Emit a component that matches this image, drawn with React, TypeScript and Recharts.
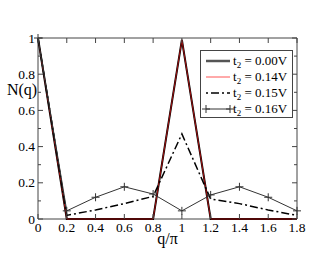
import React from "react";
import { LineChart, Line, XAxis, YAxis, ReferenceArea } from "recharts";

const qValues = [0, 0.2, 0.4, 0.6, 0.8, 1, 1.2, 1.4, 1.6, 1.8];
const n000 = [1, 0, 0, 0, 0, 0.99, 0, 0, 0, 0];
const n014 = [1, 0, 0, 0, 0, 0.99, 0, 0, 0, 0];
const n015 = [1, 0.02, 0.05, 0.085, 0.125, 0.47, 0.11, 0.085, 0.05, 0.02];
const n016 = [1, 0.045, 0.12, 0.178, 0.138, 0.045, 0.133, 0.178, 0.12, 0.045];

const xTicks = [0, 0.2, 0.4, 0.6, 0.8, 1, 1.2, 1.4, 1.6, 1.8];
const yTicks = [0, 0.1, 0.2, 0.3, 0.4, 0.5, 0.6, 0.7, 0.8, 0.9, 1];
const yLabelled = [0, 0.2, 0.4, 0.6, 0.8, 1];
const seriesNames = ["0.00V", "0.14V", "0.15V", "0.16V"];

const data = qValues.map((q, i) => ({
  q,
  a: n000[i],
  b: n014[i],
  c: n015[i],
  d: n016[i],
}));

const W = 334;
const H = 258;
const M = { top: 38, right: 37, bottom: 0, left: 0 };
const YW = 38;
const XH = 39;
const plotLeft = M.left + YW;
const plotRight = W - M.right;
const plotTop = M.top;
const plotBottom = H - M.bottom - XH;
const FONT = "'Liberation Serif', 'Times New Roman', serif";
const AXIS = "#444";

const XTick = (props: any) => {
  const { x, payload } = props;
  const cx = payload.coordinate ?? x;
  return (
    <g>
      <line x1={cx} x2={cx} y1={plotBottom} y2={plotBottom - 5} stroke={AXIS} />
      <line x1={cx} x2={cx} y1={plotTop} y2={plotTop + 5} stroke={AXIS} />
      <text x={cx} y={plotBottom + 13} textAnchor="middle" fontFamily={FONT} fontSize={13.5} fill="#000">
        {String(payload.value)}
      </text>
    </g>
  );
};

const YTick = (props: any) => {
  const { y, payload } = props;
  const cy = payload.coordinate ?? y;
  const labelled = yLabelled.some((v) => Math.abs(v - payload.value) < 1e-9);
  const len = labelled ? 5 : 3;
  return (
    <g>
      <line x1={plotLeft} x2={plotLeft + len} y1={cy} y2={cy} stroke={AXIS} />
      <line x1={plotRight} x2={plotRight - len} y1={cy} y2={cy} stroke={AXIS} />
      {labelled && (
        <text x={plotLeft - 3} y={cy + 4.5} textAnchor="end" fontFamily={FONT} fontSize={13.5} fill="#000">
          {String(payload.value)}
        </text>
      )}
    </g>
  );
};

const PlusDot = (props: any) => {
  const { cx, cy } = props;
  if (cx == null || cy == null) return null;
  return <path d={`M${cx - 4},${cy}h8M${cx},${cy - 4}v8`} stroke="#333" strokeWidth={1} fill="none" />;
};

const YLabel = () => (
  <text x={22} y={95} textAnchor="middle" fontFamily={FONT} fontSize={16} fill="#000">
    N(q)
  </text>
);

const XLabel = () => (
  <text x={(plotLeft + plotRight) / 2} y={244} textAnchor="middle" fontFamily={FONT} fontSize={16} fill="#000">
    q/π
  </text>
);

const sampleFor = (i: number) => {
  if (i === 0) return <line x1={3} x2={27} y1={8} y2={8} stroke="#555" strokeWidth={2.5} />;
  if (i === 1) return <line x1={3} x2={27} y1={8} y2={8} stroke="#ff5555" strokeWidth={1} />;
  if (i === 2)
    return <line x1={3} x2={27} y1={8} y2={8} stroke="#000" strokeWidth={1.5} strokeDasharray="2 3 8 3" />;
  return (
    <g>
      <line x1={3} x2={27} y1={8} y2={8} stroke="#333" strokeWidth={1} />
      <path d="M-1,8h8M3,4v8M23,8h8M27,4v8" stroke="#333" strokeWidth={1} />
    </g>
  );
};

const LegendBox = () => (
  <div
    style={{
      position: "absolute",
      left: 200,
      top: 50,
      border: `1px solid ${AXIS}`,
      background: "#fff",
      width: 93,
      height: 68,
      boxSizing: "border-box",
      paddingTop: 2,
      fontFamily: FONT,
      fontSize: 13,
      color: "#000",
    }}
  >
    {seriesNames.map((n, i) => (
      <div key={n} style={{ display: "flex", alignItems: "center", height: 16 }}>
        <svg width={30} height={16} style={{ overflow: "visible", marginLeft: 2, flex: "none" }}>
          {sampleFor(i)}
        </svg>
        <span style={{ whiteSpace: "nowrap", lineHeight: "16px" }}>
          t<sub style={{ fontSize: 9, verticalAlign: "-3px", lineHeight: 0 }}>2</sub> = {n}
        </span>
      </div>
    ))}
  </div>
);

export default function App() {
  return (
    <div style={{ position: "absolute", left: 0, top: 0, width: W, height: H, background: "#fff" }}>
      <LineChart width={W} height={H} data={data} margin={M}>
        <XAxis
          dataKey="q"
          type="number"
          domain={[0, 1.8]}
          ticks={xTicks}
          height={XH}
          tickLine={false}
          axisLine={false}
          tickSize={0}
          tick={<XTick />}
          interval={0}
          label={<XLabel />}
        />
        <YAxis
          type="number"
          domain={[0, 1]}
          ticks={yTicks}
          width={YW}
          tickLine={false}
          axisLine={false}
          tickSize={0}
          tick={<YTick />}
          interval={0}
          label={<YLabel />}
        />
        <ReferenceArea x1={0} x2={1.8} y1={0} y2={1} fill="none" stroke={AXIS} strokeWidth={1} ifOverflow="visible" />
        <Line dataKey="a" stroke="#000" strokeWidth={2} dot={false} isAnimationActive={false} />
        <Line dataKey="b" stroke="#a01010" strokeWidth={1} dot={false} isAnimationActive={false} />
        <Line
          dataKey="c"
          stroke="#000"
          strokeWidth={1.5}
          strokeDasharray="8 3 2 3"
          dot={false}
          isAnimationActive={false}
        />
        <Line dataKey="d" stroke="#333" strokeWidth={1} dot={<PlusDot />} isAnimationActive={false} />
      </LineChart>
      <LegendBox />
    </div>
  );
}
